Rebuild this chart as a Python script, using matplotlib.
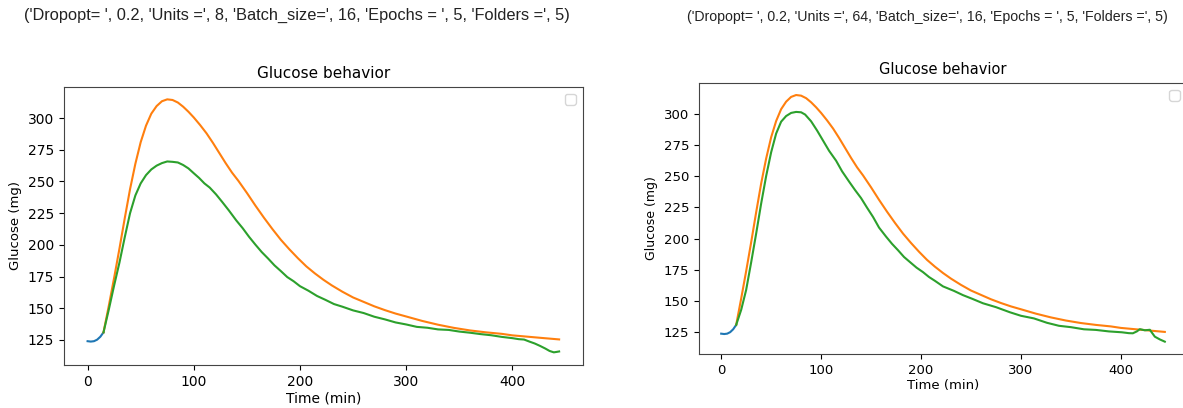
import numpy as np
import matplotlib
matplotlib.use("Agg")
import matplotlib.pyplot as plt

# run settings printed above each panel
header_a = "('Dropopt= ', 0.2, 'Units =', 8, 'Batch_size=', 16, 'Epochs = ', 5, 'Folders =', 5)"
header_b = "('Dropopt= ', 0.2, 'Units =', 64, 'Batch_size=', 16, 'Epochs = ', 5, 'Folders =', 5)"

# glucose history before the forecast window (same for both runs)
t_hist = [0, 3, 6, 9, 12, 15]
g_hist = [124, 123.7, 124, 125.2, 127.5, 131]

# measured glucose over the forecast window (same for both runs)
t_meas = [15, 20, 25, 30, 35, 40, 45, 50, 55, 60, 65, 70, 75, 80, 85, 90, 95, 100, 106,
          112, 118, 124, 130, 136, 142, 150, 158, 166, 174, 182, 190, 198, 206, 214, 222,
          230, 240, 250, 260, 270, 280, 290, 300, 315, 330, 345, 360, 375, 390, 400, 415,
          430, 444]
g_meas = [131, 152, 174, 197, 221, 244, 264, 281, 294, 303.5, 309.5, 313.3, 314.8, 314.3,
          312.3, 309, 305, 300.5, 294.5, 288, 280.5, 272.5, 264.5, 257, 250.5, 241, 231,
          221.5, 212.5, 204, 196.5, 189.5, 183, 177.5, 172.5, 168, 163, 158.5, 155, 151.5,
          148.5, 145.8, 143.5, 140, 137, 134.5, 132.5, 131, 129.8, 128.6, 127.5, 126.4, 125.4]

# model output, Units = 8
t_pred_a = [15, 20, 25, 30, 35, 40, 45, 50, 55, 60, 65, 70, 75, 80, 85, 90, 95, 100, 105,
            110, 115, 121, 127, 133, 140, 146, 152, 158, 164, 170, 176, 182, 188, 194,
            200, 208, 216, 224, 232, 240, 250, 260, 270, 280, 290, 300, 310, 320, 330,
            340, 350, 360, 370, 380, 390, 400, 406, 411, 416, 421, 426, 431, 435, 439,
            442, 444]
g_pred_a = [131, 149, 168, 186, 206, 225, 239, 248.5, 255, 259.5, 262.5, 264.5, 265.8,
            265.5, 265, 263, 260.3, 256.5, 252.8, 248.5, 245.2, 239.8, 233.6, 227.2, 219.3,
            213.2, 206.4, 200.2, 194.3, 189.2, 183.8, 179.3, 174.6, 171.3, 167.4, 163.8,
            159.7, 156.6, 153.3, 151.2, 148.3, 146.2, 143.3, 141.2, 138.8, 137.2, 135.3,
            134.6, 133.3, 132.9, 131.6, 130.7, 129.6, 128.7, 127.4, 126.4, 125.6, 125.3,
            123.7, 122.2, 120.3, 118.2, 116.3, 115.2, 115.6, 115.9]

# model output, Units = 64
t_pred_b = [15, 20, 25, 30, 35, 40, 45, 50, 55, 60, 65, 70, 75, 80, 84, 90, 96, 102, 108,
            115, 121, 128, 134, 140, 146, 152, 158, 165, 171, 177, 183, 189, 195.5, 202,
            208, 214, 222, 233, 242, 251.5, 262, 275, 289, 300, 313, 326, 338, 350, 363,
            375, 388, 401, 408, 412, 416, 419, 424, 429, 434, 439, 444]
g_pred_b = [131, 143, 159, 181, 204, 228, 250, 269, 284, 293.5, 298, 300.5, 301.3,
            301, 299.2, 293.8, 286.4, 278.3, 270.2, 262.3, 253.8, 245.6, 238.8, 232.4,
            224.7, 217.3, 208.8, 201.6, 195.8, 190.7, 185.3, 181.2, 176.8, 173.2, 169.3,
            166.2, 161.8, 158.2, 154.8, 151.8, 148.3, 145.2, 141.1, 138.3, 136.2, 132.7,
            130.3, 129.2, 127.5, 127.0, 125.8, 125.1, 124.4, 124.3, 125.8, 127.6, 126.7,
            127.1, 121.6, 119.4, 117.6]

W, H = 1183, 408
fig = plt.figure(figsize=(W / 100, H / 100), dpi=100)


def px_axes(left, top, right, bottom):
    return fig.add_axes([left / W, (H - bottom) / H, (right - left) / W, (bottom - top) / H])


panels = [
    (px_axes(64, 86.7, 582.7, 365), t_pred_a, g_pred_a, 10),
    (px_axes(699, 82.7, 1187, 354), t_pred_b, g_pred_b, 9.5),
]

for ax, tp, gp, fs in panels:
    ax.plot(t_hist, g_hist, color="C0")
    ax.plot(t_meas, g_meas, color="C1")
    ax.plot(tp, gp, color="C2")
    ax.set_title("Glucose behavior", fontsize=fs + 1)
    ax.set_xlabel("Time (min)", fontsize=fs, labelpad=2)
    ax.set_ylabel("Glucose (mg)", fontsize=fs - 0.5)
    ax.tick_params(labelsize=fs)
    ax.set_xticks([0, 100, 200, 300, 400])
    ax.set_yticks([125, 150, 175, 200, 225, 250, 275, 300])
    for sp in ax.spines.values():
        sp.set_color("#444444")
    ax.legend(loc="upper right")

fig.text(297, H - 15, header_a, transform=None, ha="center", va="center",
         family="Liberation Sans", fontsize=11.8, color="#222222")
fig.text(927, H - 17, header_b, transform=None, ha="center", va="center",
         family="Liberation Sans", fontsize=10.2, color="#222222")

fig.savefig("out.png", dpi=100)
